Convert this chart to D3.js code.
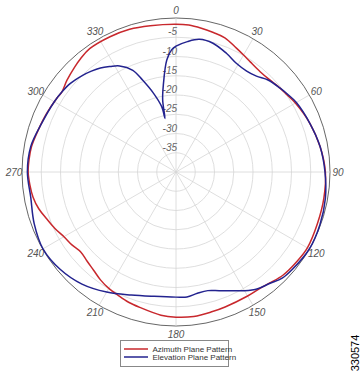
<!DOCTYPE html>
<html><head><meta charset="utf-8">
<script src="https://cdn.jsdelivr.net/npm/d3@7"></script>
<style>html,body{margin:0;padding:0;background:#fff;}svg{display:block;}</style>
</head><body>
<script>
// ---- data ----
const ringValues = [-35, -30, -25, -20, -15, -10, -5, 0];
const ringLabels = ["-35", "-30", "-25", "-20", "-15", "-10", "-5"];
const angleTicks = [0, 30, 60, 90, 120, 150, 180, 210, 240, 270, 300, 330];

const azimuthAngles = [0,5,10,15,20,26,30,34,40,45,50,55,60,70,80,90,100,110,120,126,134,140,144,150,160,166,173,180,186,195,200,205,210,215,220,225,230,235,240,245,250,255,260,265,270,275,280,287,294,302,305,310,316,320,325,334,342,350];
const azimuthGain   = [-1.6,-1.7,-2.1,-2.5,-2.9,-4.2,-4.9,-5.5,-6.0,-5.9,-5.4,-4.9,-4.2,-3.0,-2.0,-1.2,-1.0,-0.9,-0.6,-0.9,-1.4,-2.3,-2.7,-2.8,-2.7,-2.5,-2.2,-2.3,-2.6,-3.6,-4.0,-4.6,-5.1,-5.8,-6.7,-7.3,-7.7,-7.0,-6.4,-5.3,-4.3,-3.1,-2.3,-1.9,-1.6,-1.7,-1.9,-2.6,-3.1,-3.6,-3.8,-3.0,-2.1,-1.5,-0.9,-0.9,-1.0,-1.4];

const elevationAngles = [0,5,10,16,23,29,35,40,45,51,55,60,70,80,90,100,110,120,130,135,140,145,150,155,160,165,170,175,180,190,200,210,220,230,240,250,260,270,280,290,300,305,310,316,320,324,328,332,337,340,344,347.6,348.4,349.5,351.7,355.3,358];
const elevationGain   = [-7.3,-6.0,-5.0,-5.2,-6.5,-7.7,-8.0,-7.5,-6.2,-5.3,-4.7,-3.9,-3.0,-2.0,-1.3,-0.6,-0.2,0.0,-0.6,-1.0,-2.2,-3.0,-4.4,-6.0,-7.2,-8.1,-8.0,-7.4,-7.5,-7.2,-6.0,-4.0,-2.0,-0.7,-0.1,-0.8,-1.7,-1.4,-1.7,-2.9,-3.5,-3.8,-4.2,-5.1,-5.8,-6.6,-7.7,-8.8,-11.3,-14.6,-18.7,-22.6,-25.8,-21.0,-17.2,-10.8,-8.2];

const legendLabels = ["Azimuth Plane Pattern", "Elevation Plane Pattern"];
const seriesColors = ["#c8282d", "#23238f"];
const figureId = "330574";

// ---- drawing ----
const W = 360, H = 373;
const cx = 176, cy = 172, R = 154;
const svg = d3.select("body").append("svg").attr("width", W).attr("height", H);
const g = svg.append("g").attr("transform", `translate(${cx},${cy})`);

const r = d3.scaleLinear().domain([-40, 0]).range([0, R]);
const toRad = d => d * Math.PI / 180;

// rings
g.selectAll("circle.ring").data(ringValues).join("circle")
  .attr("class", "ring")
  .attr("r", d => r(d))
  .attr("fill", "none")
  .attr("stroke", d => d === 0 ? "#555" : "#d6d6d6")
  .attr("stroke-width", d => d === 0 ? 0.9 : 0.8);

// spokes
g.selectAll("line.spoke").data(angleTicks).join("line")
  .attr("class", "spoke")
  .attr("x1", 0).attr("y1", 0)
  .attr("x2", d => r(0) * Math.sin(toRad(d)))
  .attr("y2", d => -r(0) * Math.cos(toRad(d)))
  .attr("stroke", "#d6d6d6").attr("stroke-width", 0.8);

// ring labels
g.selectAll("text.rl").data(ringLabels).join("text")
  .attr("class", "rl")
  .attr("x", 1)
  .attr("y", d => -r(+d) - 2)
  .attr("text-anchor", "end")
  .attr("font-family", "Liberation Sans, Arial, sans-serif")
  .attr("font-style", "italic")
  .attr("font-size", 10)
  .attr("fill", "#666")
  .text(d => d);

// angle labels
g.selectAll("text.al").data(angleTicks).join("text")
  .attr("class", "al")
  .attr("x", d => (R + 8) * Math.sin(toRad(d)))
  .attr("y", d => -(R + 8) * Math.cos(toRad(d)) + 3.5)
  .attr("text-anchor", "middle")
  .attr("font-family", "Liberation Sans, Arial, sans-serif")
  .attr("font-style", "italic")
  .attr("font-size", 10)
  .attr("fill", "#555")
  .text(d => d);

// series
const series = [
  {angles: azimuthAngles, gain: azimuthGain, color: seriesColors[0]},
  {angles: elevationAngles, gain: elevationGain, color: seriesColors[1]}
];
const line = d3.lineRadial()
  .angle(d => toRad(d[0]))
  .radius(d => r(d[1]))
  .curve(d3.curveCatmullRomClosed.alpha(0.5));

g.selectAll("path.series").data(series).join("path")
  .attr("class", "series")
  .attr("d", s => line(s.angles.map((a, i) => [a, s.gain[i]])))
  .attr("fill", "none")
  .attr("stroke", s => s.color)
  .attr("stroke-width", 1.5)
  .attr("stroke-linejoin", "round");

// legend
const lg = svg.append("g").attr("transform", "translate(120.5,340.5)");
lg.append("rect").attr("width", 108).attr("height", 26)
  .attr("fill", "#fff").attr("stroke", "#888").attr("stroke-width", 1);
const li = lg.selectAll("g.item").data(legendLabels).join("g")
  .attr("class", "item")
  .attr("transform", (d, i) => `translate(0,${8.5 + i * 8})`);
li.append("line").attr("x1", 3.5).attr("x2", 27.5).attr("y1", 0).attr("y2", 0)
  .attr("stroke", (d, i) => seriesColors[i]).attr("stroke-width", 1.5);
li.append("text").attr("x", 32).attr("y", 3)
  .attr("font-family", "Liberation Sans, Arial, sans-serif")
  .attr("font-size", 8).attr("fill", "#333")
  .text(d => d);

// figure id
svg.append("text")
  .attr("transform", "translate(359,353) rotate(-90)")
  .attr("text-anchor", "middle")
  .attr("font-family", "Liberation Sans, Arial, sans-serif")
  .attr("font-size", 11)
  .attr("fill", "#000")
  .text(figureId);
</script>
</body></html>
